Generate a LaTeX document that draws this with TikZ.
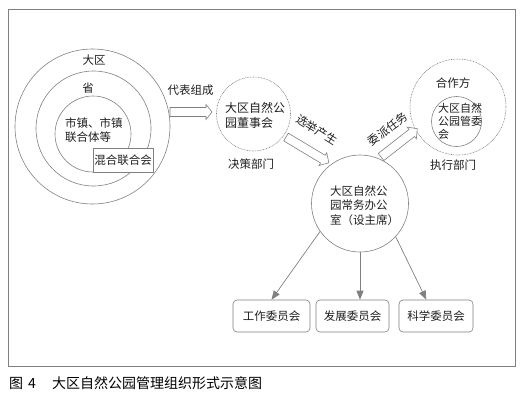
\documentclass[tikz,border=0pt]{standalone}
\usepackage{fontspec}
\newfontfamily\cjk{Noto Sans CJK SC}
\usetikzlibrary{arrows.meta,calc}
\definecolor{lc}{RGB}{128,128,128}
\definecolor{tc}{RGB}{30,30,30}
\begin{document}
\begin{tikzpicture}[x=1pt,y=-1pt,
  ln/.style={draw=lc, line width=0.6pt},
  ring/.style={circle, ln, inner sep=0pt},
  dring/.style={circle, draw=lc, line width=0.6pt, dash pattern=on 0.8pt off 0.8pt, inner sep=0pt},
  txt/.style={font=\cjk\fontsize{11.5}{14.5}\selectfont, text=tc, inner sep=0pt, align=left},
  cbox/.style={ln, rounded corners=4pt, font=\cjk\fontsize{11.5}{14}\selectfont, text=tc, inner sep=0pt, minimum height=32pt},
  hollow/.style={ln, line join=miter, fill=white},
  conn/.style={draw=lc, line width=0.7pt, -{Triangle[length=9pt,width=7pt]}},
  captxt/.style={font=\cjk\fontsize{14}{16}\selectfont, text=black, inner sep=0pt, anchor=west}]
\useasboundingbox (0,0) rectangle (526,402);
\draw[ln] (8,9) rectangle (515,366);
% left nested circles
\node[ring, minimum size=155pt] (outer) at (92.5,126.5) {};
\node[ring, minimum size=115pt] (mid) at (93.5,128.5) {};
\node[ring, minimum size=76pt] (inner) at (93,134) {};
\node[txt] (tdq) at (94,60) {大区};
\node[txt] (tsh) at (88,88) {省};
\node[txt, anchor=west] (tsz) at (65,130) {市镇、市镇\\联合体等};
\node[ln, fill=white, minimum width=60pt, minimum height=24pt, inner sep=0pt, font=\cjk\fontsize{11.5}{14}\selectfont, text=tc] (hh) at (123,160) {混合联合会};
% board
\node[dring, minimum size=74pt] (board) at (253.5,114) {};
\node[txt, anchor=west, font=\cjk\fontsize{12}{15}\selectfont] (tboard) at (225,115.5) {大区自然公\\园董事会};
\node[txt] (tjc) at (251,164) {决策部门};
% right
\node[dring, minimum size=96pt] (coop) at (458,107) {};
\node[ring, minimum size=50pt] (mgmt) at (456.5,121.5) {};
\node[txt] (thz) at (453,83) {合作方};
\node[txt, anchor=west, font=\cjk\fontsize{11}{13}\selectfont] (tmg) at (438,121) {大区自然\\公园管委\\会};
\node[txt] (tzx) at (453,165) {执行部门};
% centre
\node[ring, minimum size=97pt] (c) at (360,203.5) {};
\node[txt, anchor=west, font=\cjk\fontsize{11.5}{14.5}\selectfont] (tc) at (330,205.5) {大区自然公\\园常务办公\\室（设主席）};
% hollow arrows
\coordinate (a1) at (170,112);
\begin{scope}[shift={(a1)}]
\draw[hollow] (0,-4.5) -- (36,-4.5) -- (36,-7.5) -- (42,0) -- (36,7.5) -- (36,4.5) -- (0,4.5) -- cycle;
\end{scope}
\node[txt] (l1) at (190.5,90) {代表组成};
\coordinate (a2) at (286,137);
\begin{scope}[shift={(a2)}, rotate=-31]
\draw[hollow] (0,-4.5) -- (43,-4.5) -- (43,-7.5) -- (50,0) -- (43,7.5) -- (43,4.5) -- (0,4.5) -- cycle;
\end{scope}
\node[txt, rotate=-32] (l2) at (317,130) {选举产生};
\coordinate (a3) at (381,157);
\begin{scope}[shift={(a3)}, rotate=38]
\draw[hollow] (0,-4.5) -- (39,-4.5) -- (39,-7.5) -- (46,0) -- (39,7.5) -- (39,4.5) -- (0,4.5) -- cycle;
\end{scope}
\node[txt, rotate=36] (l3) at (388,129) {委派任务};
% committees
\node[cbox, minimum width=77pt] (b1) at (271.5,316) {工作委员会};
\node[cbox, minimum width=73pt] (b2) at (352.5,316) {发展委员会};
\node[cbox, minimum width=74pt] (b3) at (436,316) {科学委员会};
\draw[conn] (c.215) -- (b1.north);
\draw[conn] (c.south) -- (c.south |- b2.north);
\draw[conn] (c.-43) -- ($(b3.north west)!0.37!(b3.north east)$);
% caption
\node[captxt] (f1) at (9,383) {图};
\node[captxt] (f2) at (28,383) {4};
\node[captxt] (f3) at (52,383) {大区自然公园管理组织形式示意图};
\end{tikzpicture}
\end{document}
